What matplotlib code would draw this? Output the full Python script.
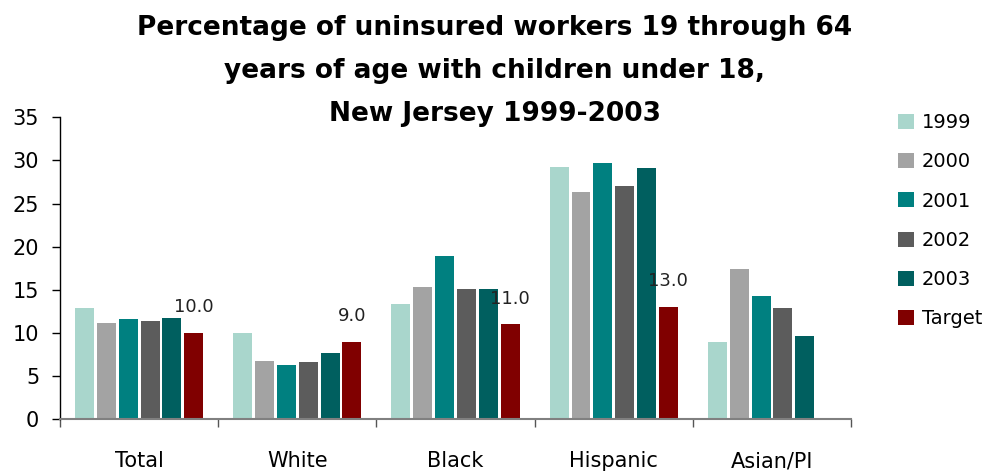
import matplotlib.pyplot as plt
import numpy as np

# data
groups = ['Total', 'White', 'Black', 'Hispanic', 'Asian/PI']
series = ['1999', '2000', '2001', '2002', '2003', 'Target']
v1999 = [12.9, 10.0, 13.4, 29.2, 9.0]
v2000 = [11.2, 6.8, 15.3, 26.3, 17.4]
v2001 = [11.6, 6.3, 18.9, 29.7, 14.3]
v2002 = [11.4, 6.6, 15.1, 27.0, 12.9]
v2003 = [11.7, 7.7, 15.1, 29.1, 9.6]
target = [10.0, 9.0, 11.0, 13.0, np.nan]
colors = ['#A9D6CC', '#A3A3A3', '#008080', '#5C5C5C', '#005F5F', '#800000']

values = [v1999, v2000, v2001, v2002, v2003, target]

fig = plt.figure(figsize=(9.94, 4.75), dpi=100)
ax = fig.add_axes([0.0604, 0.1173, 0.7958, 0.6357])

x = np.arange(len(groups))
slot = 0.138
width = 0.12
for i, (name, vals, c) in enumerate(zip(series, values, colors)):
    offs = (i - 2.5) * slot
    bars = ax.bar(x + offs, vals, width, color=c, label=name, zorder=2)
    if name == 'Target':
        for b, v in zip(bars, vals):
            if np.isnan(v):
                continue
            ax.annotate(f'{v:.1f}', (b.get_x() + b.get_width() / 2, v),
                        xytext=(0, 12), textcoords='offset points',
                        ha='center', va='bottom', fontsize=13, color='#222222')

ax.set_xlim(-0.5, 4.5)
ax.set_ylim(0, 35)
ax.set_yticks(range(0, 36, 5))
ax.tick_params(axis='y', labelsize=15, length=6, width=1, pad=9, direction='out')

ax.set_xticks(np.arange(-0.5, 4.6, 1))
ax.set_xticklabels([])
ax.tick_params(axis='x', which='major', length=6, width=1, color='#555555')
ax.set_xticks(x, minor=True)
ax.set_xticklabels(groups, minor=True, fontsize=15)
ax.tick_params(axis='x', which='minor', length=0, pad=23)

ax.spines['top'].set_visible(False)
ax.spines['right'].set_visible(False)
ax.spines['left'].set_linewidth(1)
ax.spines['bottom'].set_color('#808080')
ax.spines['bottom'].set_linewidth(1.5)

fig.text(495 / 994, 0.968,
         'Percentage of uninsured workers 19 through 64\n'
         'years of age with children under 18,\n'
         'New Jersey 1999-2003',
         ha='center', va='top', fontsize=19, fontweight='bold',
         linespacing=1.84)

fig.legend(loc='upper left', bbox_to_anchor=(0.896, 0.778), frameon=False,
           fontsize=14, handlelength=0.8, handleheight=0.8,
           handletextpad=0.4, labelspacing=1.04, borderaxespad=0)

fig.savefig('out.png', dpi=100)
